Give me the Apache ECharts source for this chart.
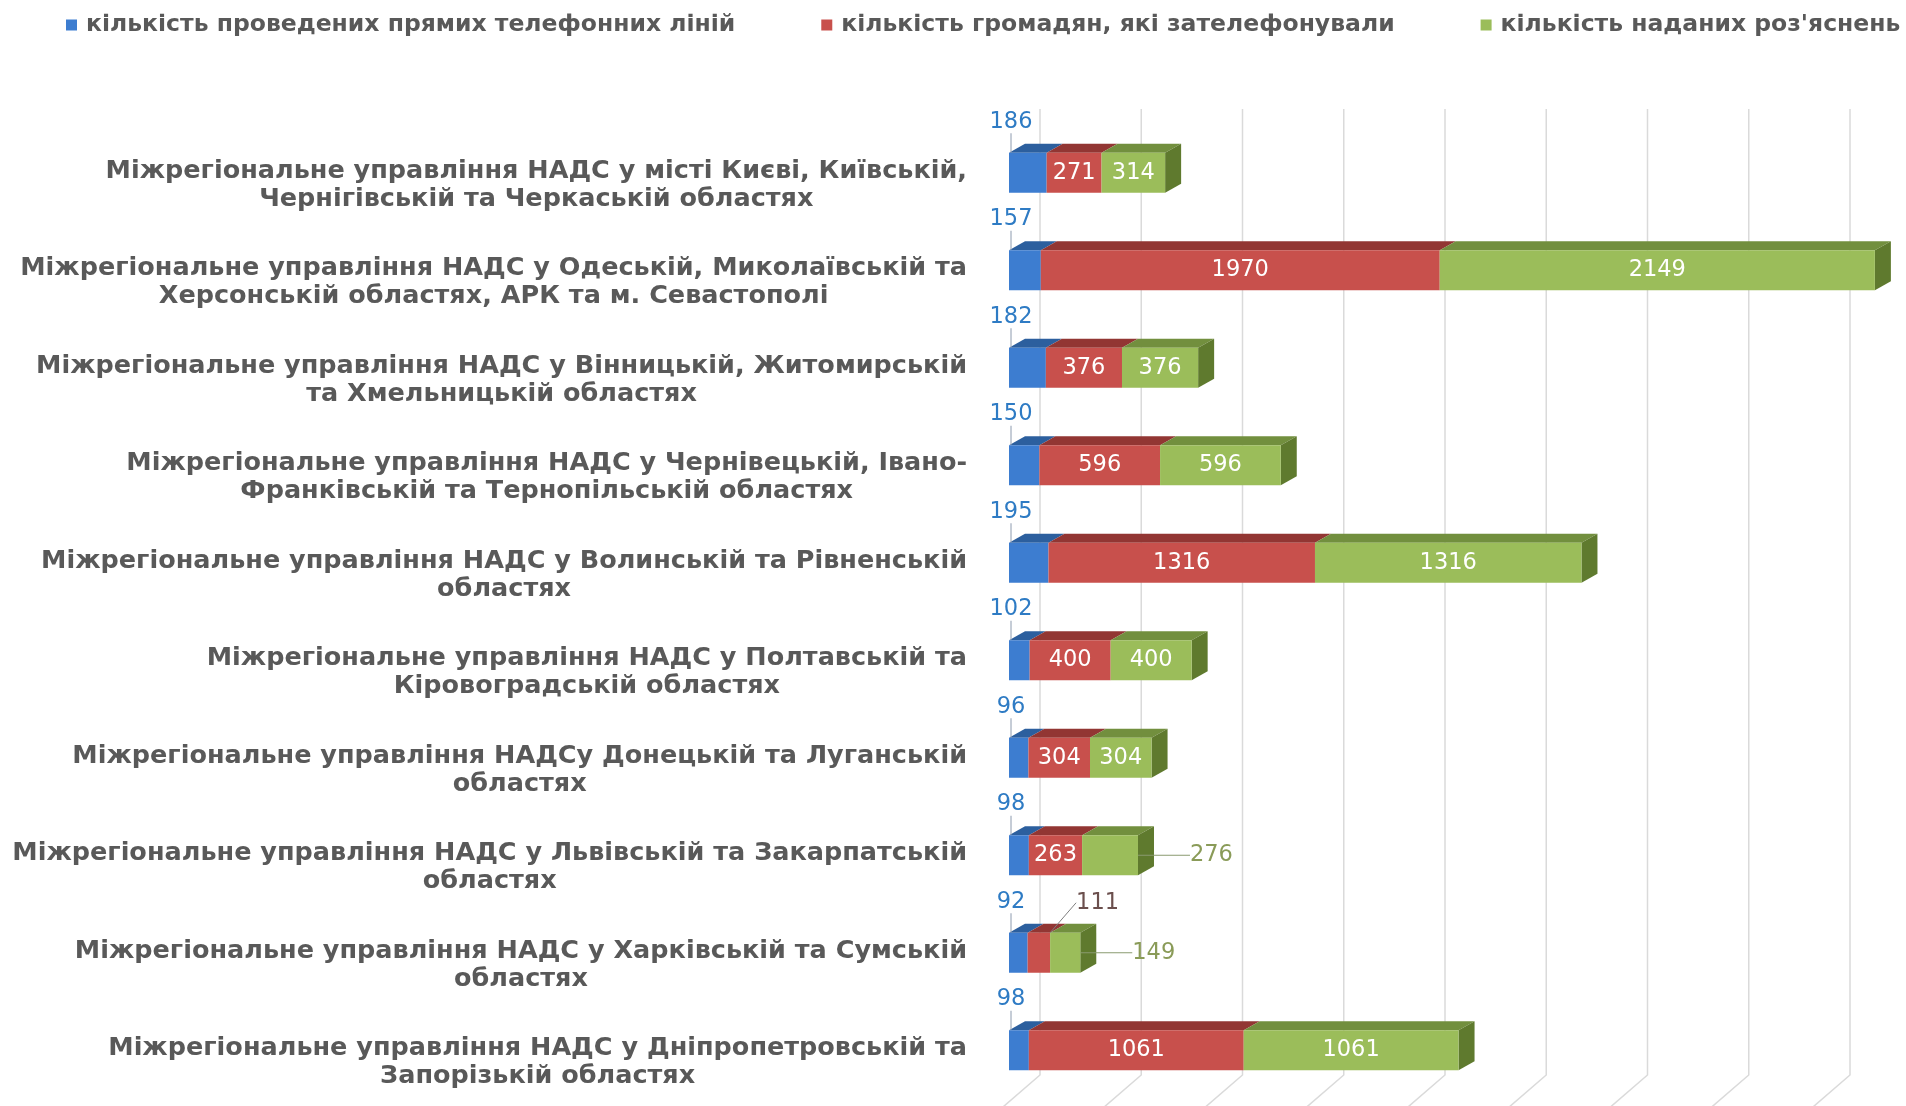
<!DOCTYPE html>
<html>
<head>
<meta charset="utf-8">
<script src="https://cdn.jsdelivr.net/npm/echarts@6/dist/echarts.min.js"></script>
<style>
html, body { margin: 0; padding: 0; background: #fff; }
#chart { width: 1906px; height: 1106px; }
</style>
</head>
<body>
<div id="chart"></div>
<script>
// категорії (міжрегіональні управління)
const regions = [
  'Міжрегіональне управління НАДС у місті Києві, Київській,\nЧернігівській та Черкаській областях',
  'Міжрегіональне управління НАДС у Одеській, Миколаївській та\nХерсонській областях, АРК та м. Севастополі',
  'Міжрегіональне управління НАДС у Вінницькій, Житомирській\nта Хмельницькій областях',
  'Міжрегіональне управління НАДС у Чернівецькій, Івано-\nФранківській та Тернопільській областях',
  'Міжрегіональне управління НАДС у Волинській та Рівненській\nобластях',
  'Міжрегіональне управління НАДС у Полтавській та\nКіровоградській областях',
  'Міжрегіональне управління НАДСу Донецькій та Луганській\nобластях',
  'Міжрегіональне управління НАДС у Львівській та Закарпатській\nобластях',
  'Міжрегіональне управління НАДС у Харківській та Сумській\nобластях',
  'Міжрегіональне управління НАДС у Дніпропетровській та\nЗапорізькій областях'
]
const seriesNames = [
  'кількість проведених прямих телефонних ліній',
  'кількість громадян, які зателефонували',
  'кількість наданих роз\'яснень'
]
const hotLines = [186, 157, 182, 150, 195, 102, 96, 98, 92, 98]
const callers = [271, 1970, 376, 596, 1316, 400, 304, 263, 111, 1061]
const answers = [314, 2149, 376, 596, 1316, 400, 304, 276, 149, 1061]
const gridTicks = [0, 500, 1000, 1500, 2000, 2500, 3000, 3500, 4000]

const frontColors = ['#3d7dd0', '#c8504c', '#9bbd5a']
const topColors = ['#2c5f9e', '#923633', '#728f3e']
const sideColor = '#5f7a2e'
const depthX = 16
const depthY = 9
const wallShift = 31
const numFont = 'DejaVu Sans'
const numSize = 22.5

const chart = echarts.init(document.getElementById('chart'))

// дрібні сегменти – підпис зовні з лінією-виноскою
function buildData (arr, limit, outColor) {
  return arr.map(v => v < limit
    ? { value: v, label: { color: outColor }, labelLine: { show: true } }
    : v)
}

function outsideLayout (limit, arr, dx, dy) {
  return function (params) {
    if (arr[params.dataIndex] >= limit) return {}
    return {
      x: params.rect.x + params.rect.width + dx,
      y: params.rect.y + dy,
      align: 'left',
      verticalAlign: 'middle'
    }
  }
}

const option = {
  backgroundColor: '#fff',
  animation: false,
  legend: {
    left: 61,
    top: 8,
    width: 1900,
    itemWidth: 11,
    itemHeight: 11,
    itemGap: 86,
    icon: 'rect',
    textStyle: {
      color: '#595959',
      fontSize: 23.5,
      fontWeight: 'bold',
      fontFamily: 'DejaVu Sans',
      padding: [0, 0, 0, 4]
    },
    data: seriesNames
  },
  grid: {
    left: 1009,
    right: 6,
    top: 124,
    bottom: 7
  },
  xAxis: {
    type: 'value',
    min: 0,
    max: 4400,
    show: false
  },
  yAxis: {
    type: 'category',
    inverse: true,
    data: regions,
    axisLine: { show: false },
    axisTick: { show: false },
    axisLabel: {
      margin: 42,
      padding: [25, 0, 0, 0],
      formatter: (val) => val.split('\n').map(s => '{a|' + s + '}').join('\n'),
      rich: {
        a: {
          align: 'center',
          color: '#595959',
          fontSize: 25.5,
          fontWeight: 'bold',
          fontFamily: 'DejaVu Sans',
          lineHeight: 28
        }
      }
    }
  },
  series: [
    {
      // задня стінка та підлога (сітка)
      type: 'custom',
      silent: true,
      z: 1,
      clip: false,
      data: gridTicks.map(v => [v, 0]),
      encode: { x: 0, y: 1 },
      renderItem: function (params, api) {
        const cs = params.coordSys
        const x = api.coord([api.value(0), 0])[0] + wallShift
        const top = cs.y - 15
        const bottom = cs.y + cs.height - 24
        return {
          type: 'polyline',
          shape: { points: [[x, top], [x, bottom], [x - 44, bottom + 38]] },
          style: { stroke: '#dadada', lineWidth: 1.5, fill: null }
        }
      }
    },
    {
      name: seriesNames[0],
      type: 'bar',
      stack: 'total',
      barWidth: 40,
      z: 3,
      itemStyle: { color: frontColors[0] },
      data: hotLines,
      label: {
        show: true,
        color: '#2e7bc4',
        fontSize: numSize,
        fontFamily: numFont
      },
      labelLine: {
        show: true,
        lineStyle: { color: '#8c9aae', width: 1 }
      },
      labelLayout: function (params) {
        return {
          x: params.rect.x + 2,
          y: params.rect.y - 31,
          align: 'center',
          verticalAlign: 'middle'
        }
      }
    },
    {
      name: seriesNames[1],
      type: 'bar',
      stack: 'total',
      barWidth: 40,
      z: 3,
      itemStyle: { color: frontColors[1] },
      data: buildData(callers, 200, '#6b4f4d'),
      label: {
        show: true,
        position: 'inside',
        color: '#fff',
        fontSize: numSize,
        fontFamily: numFont
      },
      labelLine: {
        show: false,
        lineStyle: { color: '#7f7f7f', width: 1 }
      },
      labelLayout: outsideLayout(200, callers, 26, -30)
    },
    {
      name: seriesNames[2],
      type: 'bar',
      stack: 'total',
      barWidth: 40,
      z: 3,
      itemStyle: { color: frontColors[2] },
      data: buildData(answers, 290, '#8a9b58'),
      label: {
        show: true,
        position: 'inside',
        color: '#fff',
        fontSize: numSize,
        fontFamily: numFont
      },
      labelLine: {
        show: false,
        lineStyle: { color: '#8a9b70', width: 1 }
      },
      labelLayout: outsideLayout(290, answers, 52, 20)
    },
    {
      // об'ємні грані стовпчиків
      type: 'custom',
      silent: true,
      z: 2,
      clip: false,
      data: regions.map((r, i) => [i, hotLines[i], callers[i], answers[i]]),
      encode: { y: 0, x: [1, 2, 3] },
      renderItem: function (params, api) {
        const i = api.value(0)
        const vals = [api.value(1), api.value(2), api.value(3)]
        const yc = api.coord([0, i])[1]
        const yTop = yc - 20
        const yBot = yc + 20
        const children = []
        let cum = 0
        vals.forEach((v, k) => {
          const x0 = api.coord([cum, i])[0]
          cum += v
          const x1 = api.coord([cum, i])[0]
          children.push({
            type: 'polygon',
            shape: { points: [[x0, yTop], [x1, yTop], [x1 + depthX, yTop - depthY], [x0 + depthX, yTop - depthY]] },
            style: { fill: topColors[k] }
          })
          if (k === vals.length - 1) {
            children.push({
              type: 'polygon',
              shape: { points: [[x1, yTop], [x1 + depthX, yTop - depthY], [x1 + depthX, yBot - depthY], [x1, yBot]] },
              style: { fill: sideColor }
            })
          }
        })
        return { type: 'group', children: children }
      }
    }
  ]
}

chart.setOption(option)
</script>
</body>
</html>
